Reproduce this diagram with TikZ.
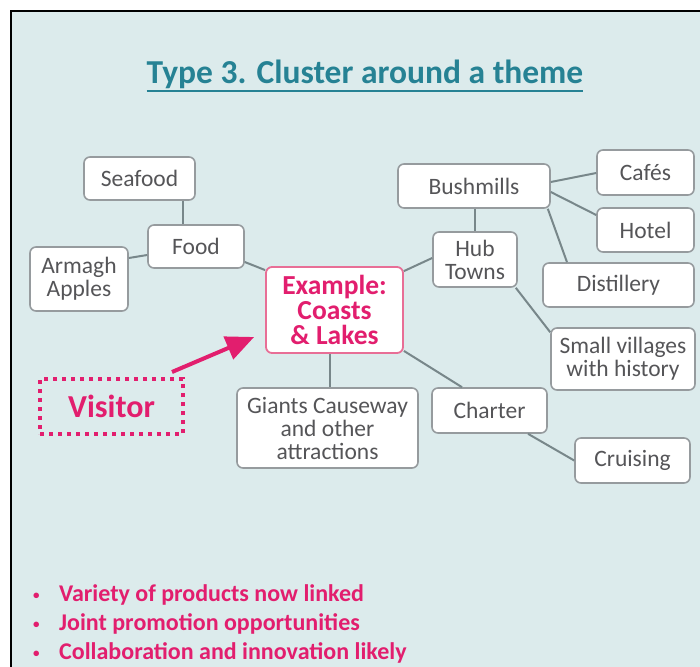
\documentclass[tikz,border=0pt]{standalone}
\usepackage{fontspec}
\setmainfont{Carlito}
\usetikzlibrary{calc,arrows.meta}
\definecolor{bgblue}{RGB}{220,235,236}
\definecolor{mag}{RGB}{226,30,110}
\definecolor{magline}{RGB}{232,110,150}
\definecolor{boxgray}{RGB}{150,155,158}
\definecolor{linkgray}{RGB}{120,135,138}
\definecolor{txtgray}{RGB}{85,85,88}
\definecolor{titleteal}{RGB}{38,130,148}
\newcommand{\smallbul}{\makebox[28pt][l]{\hspace{2pt}\raisebox{2pt}{\fontsize{13}{13}\selectfont•}}}
\begin{document}
\begin{tikzpicture}[x=1pt,y=-1pt,
  box/.style={draw=boxgray, fill=white, rounded corners=6pt, line width=1.6pt,
    align=center, text=txtgray, inner sep=0pt,
    font=\fontsize{23.5}{23}\selectfont},
  link/.style={draw=linkgray, line width=2pt},
  hotbox/.style={draw=magline, fill=white, rounded corners=6pt, line width=1.8pt,
    align=center, text=mag, inner sep=0pt,
    font=\bfseries\fontsize{27.5}{25}\selectfont},
  visbox/.style={draw=mag, line width=4pt, dash pattern=on 4pt off 5pt,
    text=mag, inner sep=0pt, font=\bfseries\fontsize{32}{32}\selectfont}]
\useasboundingbox (0,0) rectangle (700,666);
\fill[white] (0,0) rectangle (700,666);
\clip (0,0) rectangle (700,666);
\draw[line width=2.5pt, fill=bgblue] (11,11) rectangle (720,690);

% title
\node[anchor=base, inner sep=0pt, text=titleteal, font=\bfseries\fontsize{33.5}{33}\selectfont] (title) at (365,84) {Type 3. Cluster around a theme};
\draw[titleteal, line width=1.8pt] ($(title.base west)+(0,7)$) -- ($(title.base east)+(0,7)$);

% nodes
\node[box, minimum width=111pt, minimum height=43pt] (seafood) at (139.5,178.5) {Seafood};
\node[box, minimum width=96pt, minimum height=43pt] (food) at (196,246.5) {Food};
\node[box, minimum width=98pt, minimum height=64pt] (armagh) at (79,279) {Armagh\\Apples};
\node[hotbox, minimum width=137pt, minimum height=86pt] (example) at (334.5,310) {Example:\\Coasts\\\&~Lakes};
\node[visbox, minimum width=143pt, minimum height=55pt] (visitor) at (111.5,406.5) {Visitor};
\node[box, minimum width=181pt, minimum height=80pt] (giants) at (327.5,428) {Giants Causeway\\and other\\attractions};
\node[box, minimum width=152pt, minimum height=44pt] (bushmills) at (474,186) {Bushmills};
\node[box, minimum width=97pt, minimum height=45pt] (cafes) at (645.5,172.5) {Cafés};
\node[box, minimum width=97pt, minimum height=44pt] (hotel) at (645.5,230) {Hotel};
\node[box, minimum width=84pt, minimum height=55pt] (hub) at (475,259.5) {Hub\\Towns};
\node[box, minimum width=151pt, minimum height=44pt] (distillery) at (618.5,285) {Distillery};
\node[box, minimum width=144pt, minimum height=62pt] (villages) at (623,359) {Small villages\\with history};
\node[box, minimum width=115pt, minimum height=45pt] (charter) at (489.5,410.5) {Charter};
\node[box, minimum width=115pt, minimum height=45pt] (cruising) at (632.5,460.5) {Cruising};

% connectors
\draw[link] ($(seafood.south)+(43.5,0)$) -- ($(food.north)+(-13,0)$);
\draw[link] ($(armagh.east)+(0,-21)$) -- ($(food.west)+(0,8.5)$);
\draw[link] ($(food.east)+(0,15.5)$) -- ($(example.north west)+(0,4)$);
\draw[link] ($(example.north east)+(0,5)$) -- ($(hub.west)+(0,-1.5)$);
\draw[link] ($(example.south)+(-4.5,0)$) -- ($(giants.north)+(2.5,0)$);
\draw[link] ($(example.south east)+(0,-3)$) -- ($(charter.north)+(-27.5,0)$);
\draw[link] ($(bushmills.south)+(1,0)$) -- (hub.north);
\draw[link] ($(bushmills.east)+(0,-4)$) -- ($(cafes.west)+(0,0.5)$);
\draw[link] ($(bushmills.east)+(0,6)$) -- ($(hotel.west)+(0,-15)$);
\draw[link] ($(bushmills.south east)+(-3,0)$) -- ($(distillery.north)+(-51.5,0)$);
\draw[link] ($(hub.south east)+(-2,0)$) -- ($(villages.north west)+(0,5)$);
\draw[link] ($(charter.south)+(38.5,0)$) -- (cruising.west);

% arrow
\draw[mag, line width=4pt, -{Triangle[length=28pt,width=24pt]}]
  ($(visitor.north east)+(-13,-5)$) -- ($(example.west)+(-11,27)$);

% bullets
\node[anchor=west, inner sep=0pt, align=left, text=mag,
  font=\bfseries\fontsize{24}{29}\selectfont] (points) at (31,624)
  {\smallbul Variety of products now linked\\
   \smallbul Joint promotion opportunities\\
   \smallbul Collaboration and innovation likely};
\end{tikzpicture}
\end{document}
